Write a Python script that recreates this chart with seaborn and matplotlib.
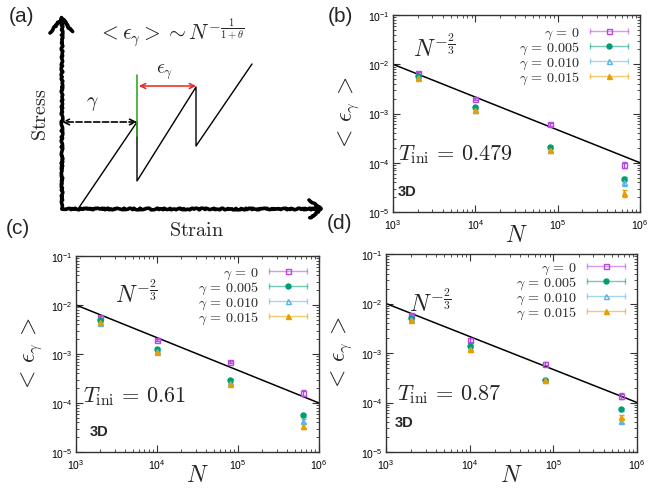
import numpy as np
import matplotlib
matplotlib.use("Agg")
import matplotlib.pyplot as plt
import seaborn as sns
from matplotlib.lines import Line2D
from matplotlib.legend_handler import HandlerBase
from matplotlib.container import ErrorbarContainer
from matplotlib.font_manager import FontProperties
from matplotlib.ticker import NullFormatter, LogLocator

# ---------------- data ----------------
N = [2000, 10000, 80000, 640000]
gamma_labels = [r"$\gamma\,=\,0$", r"$\gamma\,=\,0.005$", r"$\gamma\,=\,0.010$", r"$\gamma\,=\,0.015$"]

b_g0 = [6.7e-3, 1.95e-3, 6.0e-4, 9.2e-5]
b_g0_err = [0.4e-3, 0.08e-3, 0.3e-4, 1.4e-5]
b_g005 = [5.8e-3, 1.35e-3, 2.05e-4, 4.7e-5]
b_g005_err = [0.2e-3, 0.05e-3, 0.1e-4, 0.5e-5]
b_g010 = [5.4e-3, 1.20e-3, 1.85e-4, 4.0e-5]
b_g010_err = [0.2e-3, 0.05e-3, 0.1e-4, 0.6e-5]
b_g015 = [5.3e-3, 1.17e-3, 1.80e-4, 2.4e-5]
b_g015_err = [0.2e-3, 0.05e-3, 0.1e-4, 0.4e-5]

c_g0 = [5.8e-3, 1.93e-3, 6.8e-4, 1.6e-4]
c_g0_err = [0.3e-3, 0.1e-3, 0.4e-4, 0.2e-4]
c_g005 = [4.9e-3, 1.26e-3, 3.0e-4, 5.6e-5]
c_g005_err = [0.2e-3, 0.05e-3, 0.1e-4, 0.5e-5]
c_g010 = [4.2e-3, 1.15e-3, 2.6e-4, 4.3e-5]
c_g010_err = [0.2e-3, 0.05e-3, 0.1e-4, 0.4e-5]
c_g015 = [4.5e-3, 1.12e-3, 2.45e-4, 3.4e-5]
c_g015_err = [0.2e-3, 0.05e-3, 0.1e-4, 0.4e-5]

d_g0 = [5.8e-3, 1.85e-3, 6.1e-4, 1.35e-4]
d_g0_err = [0.3e-3, 0.2e-3, 0.4e-4, 0.2e-4]
d_g005 = [5.1e-3, 1.40e-3, 2.9e-4, 7.3e-5]
d_g005_err = [0.2e-3, 0.05e-3, 0.1e-4, 0.6e-5]
d_g010 = [4.9e-3, 1.20e-3, 2.8e-4, 4.2e-5]
d_g010_err = [0.2e-3, 0.05e-3, 0.1e-4, 0.4e-5]
d_g015 = [4.7e-3, 1.21e-3, 2.8e-4, 5.2e-5]
d_g015_err = [0.2e-3, 0.05e-3, 0.1e-4, 0.4e-5]

fit_N = [1e3, 1e6]
fit_y = [1e-2, 1e-4]

T_ini = ["0.479", "0.61", "0.87"]

# schematic (panel a) drawing path, in panel pixel units
saw_x = [78, 137, 137, 196, 196, 252]
saw_y = [210, 123, 182, 88, 147, 65]

# ---------------- style ----------------
sns.set_theme(style="ticks")
plt.rcParams["font.family"] = ["Liberation Sans", "DejaVu Sans"]
plt.rcParams["mathtext.fontset"] = "custom"
plt.rcParams["mathtext.rm"] = "Liberation Sans"
plt.rcParams["mathtext.it"] = "Liberation Sans:italic"
plt.rcParams["mathtext.bf"] = "Liberation Sans:bold"
plt.rcParams["axes.unicode_minus"] = True

W, H = 649, 489
fig = plt.figure(figsize=(W / 100, H / 100), dpi=100)

colors = ["#b548e0", "#009e73", "#56b4e9", "#e69f00"]
markers = ["s", "o", "^", "^"]
mfcs = ["none", "#009e73", "none", "#e69f00"]


def fx(x):
    return x / W


def fy(y):
    return 1 - y / H


class HandlerGnuplotErr(HandlerBase):
    def create_artists(self, legend, orig_handle, xdescent, ydescent,
                       width, height, fontsize, trans):
        dl = orig_handle.lines[0]
        c = dl.get_markeredgecolor()
        y = height / 2 - ydescent
        x0, x1 = -xdescent, width - xdescent
        bar = Line2D([x0, x1], [y, y], color=c, alpha=0.55, lw=1.0)
        caps = Line2D([x0, x1], [y, y], ls="none", marker="|", ms=4, mew=1.0,
                      color=c, alpha=0.55)
        mk = Line2D([(x0 + x1) / 2], [y], ls="none", marker=dl.get_marker(),
                    ms=dl.get_markersize(), mfc=dl.get_markerfacecolor(),
                    mec=dl.get_markeredgecolor(), mew=dl.get_markeredgewidth())
        for a in (bar, caps, mk):
            a.set_transform(trans)
        return [bar, caps, mk]


def make_panel(rect_px, series, errs, tval, n_pos, t_pos, d_pos, leg_anchor):
    l, t, r, b = rect_px
    ax = fig.add_axes([fx(l), fy(b), fx(r - l), (b - t) / H])
    ax.set_xscale("log")
    ax.set_yscale("log")
    ax.set_xlim(1e3, 1e6)
    ax.set_ylim(1e-5, 1e-1)
    sns.lineplot(x=fit_N, y=fit_y, ax=ax, color="black", lw=1.1, zorder=2)
    for i, (s, e) in enumerate(zip(series, errs)):
        ax.errorbar(N, s, yerr=e, ls="none", marker=markers[i], ms=3.6,
                    mfc=mfcs[i], mec=colors[i], mew=1.0, ecolor=colors[i],
                    elinewidth=1.0, capsize=1.8, capthick=1.0,
                    label=gamma_labels[i], zorder=3)
    ax.tick_params(which="both", direction="in", top=True, right=True,
                   colors="#333333", labelcolor="black", labelsize=7.5)
    ax.tick_params(axis="x", which="both", pad=4)
    ax.tick_params(axis="y", which="both", pad=2.5)
    ax.tick_params(which="major", length=5, width=0.8)
    ax.tick_params(which="minor", length=2.5, width=0.6)
    ax.xaxis.set_major_locator(LogLocator(base=10, numticks=10))
    ax.yaxis.set_major_locator(LogLocator(base=10, numticks=10))
    ax.xaxis.set_minor_locator(LogLocator(base=10, subs=np.arange(2, 10), numticks=20))
    ax.yaxis.set_minor_locator(LogLocator(base=10, subs=np.arange(2, 10), numticks=20))
    ax.xaxis.set_minor_formatter(NullFormatter())
    ax.yaxis.set_minor_formatter(NullFormatter())
    for sp in ax.spines.values():
        sp.set_color("#333333")
        sp.set_linewidth(1.0)
    ax.set_xlabel(r"$N$", fontsize=17, math_fontfamily="cm", labelpad=-5)
    ax.set_ylabel(r"$<\,\epsilon_{\gamma}\,>$", fontsize=17, math_fontfamily="cm", labelpad=5)
    fig.text(fx(n_pos[0]), fy(n_pos[1]), r"$N^{-\frac{2}{3}}$", fontsize=17,
             math_fontfamily="cm", ha="center", va="center")
    fig.text(fx(t_pos[0]), fy(t_pos[1]), r"$T_{\rm ini}\,=\,%s$" % tval, fontsize=16,
             math_fontfamily="cm", ha="left", va="center")
    fig.text(fx(d_pos[0]), fy(d_pos[1]), "3D", fontsize=10.5, fontweight="bold",
             ha="left", va="center")
    ax.legend(handler_map={ErrorbarContainer: HandlerGnuplotErr()},
              markerfirst=False, frameon=False, loc="upper right",
              bbox_to_anchor=(fx(leg_anchor[0]), fy(leg_anchor[1])),
              bbox_transform=fig.transFigure, borderpad=0, borderaxespad=0,
              prop=FontProperties(family="Liberation Sans", size=10.2, math_fontfamily="cm"),
              handlelength=2.7, handletextpad=0.7, labelspacing=-0.08)
    return ax


axb = make_panel((393, 16, 640, 213), [b_g0, b_g005, b_g010, b_g015],
                 [b_g0_err, b_g005_err, b_g010_err, b_g015_err], T_ini[0],
                 (434, 48), (398, 155), (398, 192), (628, 26))
axc = make_panel((76, 257, 319, 453), [c_g0, c_g005, c_g010, c_g015],
                 [c_g0_err, c_g005_err, c_g010_err, c_g015_err], T_ini[1],
                 (136, 294), (83, 397), (90, 432), (307, 266))
axd = make_panel((386, 255, 637, 453), [d_g0, d_g005, d_g010, d_g015],
                 [d_g0_err, d_g005_err, d_g010_err, d_g015_err], T_ini[2],
                 (430, 303), (397, 395), (395, 423), (625, 261))

# ---------------- panel (a): schematic ----------------
axa = fig.add_axes([0, fy(245), fx(330), 245 / H])
axa.set_xlim(0, 330)
axa.set_ylim(245, 0)
axa.axis("off")
rough = dict(color="black", lw=2.6, solid_capstyle="round", solid_joinstyle="round")
l1, = axa.plot([62, 62], [210, 20], **rough)
l2, = axa.plot([50, 62, 72], [34, 19, 33], **rough)
l3, = axa.plot([62, 321], [210, 210], **rough)
l4, = axa.plot([309, 321, 310], [201, 210, 219], **rough)
for ln in (l1, l2, l3, l4):
    ln.set_sketch_params(scale=0.8, length=4, randomness=8)
axa.plot(saw_x, saw_y, color="black", lw=1.0)
axa.plot([137, 137], [76, 137], color="#33aa22", lw=1.2)
axa.annotate("", xy=(62, 123), xytext=(137, 123),
             arrowprops=dict(arrowstyle="<->", color="black", lw=1.2, ls="--",
                             shrinkA=0, shrinkB=0, mutation_scale=10))
axa.annotate("", xy=(139, 87), xytext=(196, 87),
             arrowprops=dict(arrowstyle="<->", color="#e8251c", lw=1.1,
                             shrinkA=0, shrinkB=0, mutation_scale=9))
axa.text(92, 104, r"$\gamma$", fontsize=14, math_fontfamily="cm", ha="center", va="center")
axa.text(165, 72, r"$\epsilon_{\gamma}$", fontsize=14, math_fontfamily="cm", ha="center", va="center")
axa.text(171, 33, r"$<\epsilon_{\gamma}>\sim N^{-\frac{1}{1+\theta}}$", fontsize=15.5,
         math_fontfamily="cm", ha="center", va="center")
axa.text(40, 115, r"$\mathrm{Stress}$", fontsize=14.5, math_fontfamily="cm", rotation=90,
         ha="center", va="center")
axa.text(197, 230, r"$\mathrm{Strain}$", fontsize=14.5, math_fontfamily="cm",
         ha="center", va="center")

# panel letters
for lab, (x, y) in zip(["(a)", "(b)", "(c)", "(d)"],
                       [(22, 17), (340, 17), (18, 229), (340, 224)]):
    fig.text(fx(x), fy(y), lab, fontsize=15, ha="center", va="center")

fig.savefig("out.png", dpi=100)
